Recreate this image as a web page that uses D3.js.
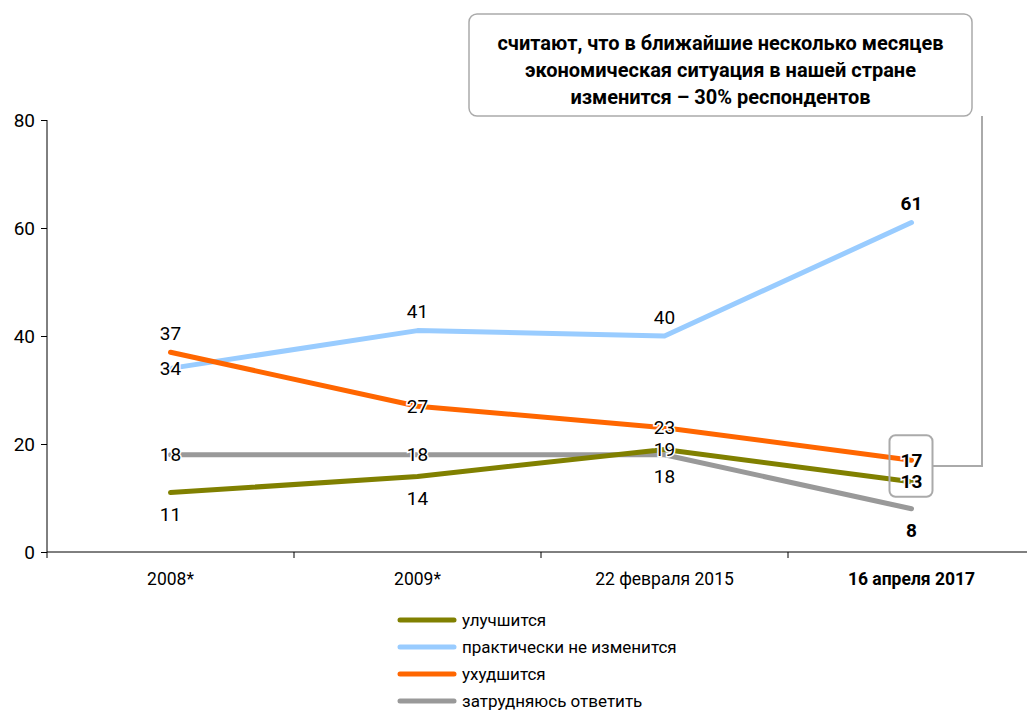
<!DOCTYPE html>
<html><head><meta charset="utf-8">
<script src="https://cdn.jsdelivr.net/npm/d3@7/dist/d3.min.js"></script>
<style>
body{margin:0;background:#fff;}
text{font-family:Roboto,"Liberation Sans",sans-serif;fill:#000;}
</style></head>
<body><svg id="c" width="1027" height="711"></svg>
<script>
const categories = ["2008*", "2009*", "22 февраля 2015", "16 апреля 2017"];
const seriesNames = ["улучшится", "практически не изменится", "ухудшится", "затрудняюсь ответить"];
const improve = [11, 14, 19, 13];
const noChange = [34, 41, 40, 61];
const worsen = [37, 27, 23, 17];
const hardToSay = [18, 18, 18, 8];
const yTicks = [0, 20, 40, 60, 80];
const calloutLines = ["считают, что в ближайшие несколько месяцев", "экономическая ситуация в нашей стране", "изменится – 30% респондентов"];
const colors = ["#808000", "#99ccff", "#ff6600", "#999999"];
// label placement per series per category
const placeImprove = ["below", "below", "center", "center"];
const placeNoChange = ["center", "above", "above", "above"];
const placeWorsen = ["above", "center", "center", "center"];
const placeHard = ["center", "center", "below", "below"];

const series = [
  {name: seriesNames[0], values: improve, place: placeImprove, color: colors[0]},
  {name: seriesNames[1], values: noChange, place: placeNoChange, color: colors[1]},
  {name: seriesNames[2], values: worsen, place: placeWorsen, color: colors[2]},
  {name: seriesNames[3], values: hardToSay, place: placeHard, color: colors[3]}
];

const svg = d3.select("#c");
const x = d3.scaleBand().domain(categories).range([47, 1035]).padding(0);
const y = d3.scaleLinear().domain([0, 80]).range([552, 120]);
const cx = c => x(c) + x.bandwidth() / 2;

// y axis
const ya = svg.append("g").attr("transform", "translate(47,0)")
  .call(d3.axisLeft(y).tickValues(yTicks).tickSize(6).tickPadding(6));
ya.select(".domain").attr("stroke", "#000").attr("d", `M0,${y(80)}V${y(0)}`);
ya.selectAll(".tick line").attr("stroke", "#000");
ya.selectAll(".tick text").style("font-size", "19px").style("font-family", "Roboto, sans-serif");

// x axis
const xa = svg.append("g");
xa.append("line").attr("x1", 47).attr("x2", 1027).attr("y1", y(0)).attr("y2", y(0)).attr("stroke", "#000");
xa.selectAll("line.tk").data(categories).enter().append("line").attr("class", "tk")
  .attr("x1", d => x(d)).attr("x2", d => x(d)).attr("y1", y(0)).attr("y2", y(0) + 6).attr("stroke", "#000");
xa.selectAll("text").data(categories).enter().append("text")
  .attr("x", d => cx(d)).attr("y", 585).attr("text-anchor", "middle")
  .style("font-size", "17.5px").style("font-weight", (d, i) => i === 3 ? "bold" : "normal").text(d => d);

// lines
const line = d3.line().x((d, i) => cx(categories[i])).y(d => y(d));
const drawOrder = [3, 0, 1, 2];
drawOrder.forEach(si => {
  const s = series[si];
  svg.append("path").attr("d", line(s.values)).attr("fill", "none")
    .attr("stroke", s.color).attr("stroke-width", 5).attr("stroke-linecap", "round").attr("stroke-linejoin", "round");
});

// labels
const off = {above: -19, center: 0, below: 22};
series.forEach(s => {
  s.values.forEach((v, i) => {
    svg.append("text").attr("x", cx(categories[i])).attr("y", y(v) + off[s.place[i]])
      .attr("dy", "0.35em").attr("text-anchor", "middle")
      .style("font-size", "19px").style("font-weight", i === 3 ? "bold" : "normal")
      .attr("stroke", "#fff").attr("stroke-width", 3).attr("paint-order", "stroke")
      .text(v);
  });
});

// small highlight box around 17/13
const bx = cx(categories[3]);
const bTop = y(worsen[3]) - 25, bBot = y(improve[3]) + 15;
svg.append("rect").attr("x", bx - 22).attr("y", bTop).attr("width", 43).attr("height", bBot - bTop)
  .attr("rx", 6).attr("fill", "none").attr("stroke", "#aaa").attr("stroke-width", 2);

// callout box
const boxL = 469, boxR = 972, boxT = 14, boxB = 116;
svg.append("rect").attr("x", boxL).attr("y", boxT).attr("width", boxR - boxL).attr("height", boxB - boxT)
  .attr("rx", 8).attr("fill", "#fff").attr("stroke", "#aaa").attr("stroke-width", 1.5);
calloutLines.forEach((t, i) => {
  svg.append("text").attr("x", (boxL + boxR) / 2).attr("y", 50 + i * 27).attr("text-anchor", "middle")
    .style("font-size", "20px").style("font-weight", "bold").text(t);
});
const midY = (bTop + bBot) / 2;
svg.append("path").attr("d", `M${bx + 21},${midY}H982V${boxB}`).attr("fill", "none").attr("stroke", "#aaa").attr("stroke-width", 2);

// legend
series.forEach((s, i) => {
  const ly = 620 + i * 27;
  svg.append("line").attr("x1", 400).attr("x2", 454).attr("y1", ly).attr("y2", ly)
    .attr("stroke", s.color).attr("stroke-width", 5).attr("stroke-linecap", "round");
  svg.append("text").attr("x", 462).attr("y", ly).attr("dy", "0.35em").style("font-size", "17px").text(s.name);
});
</script></body></html>
